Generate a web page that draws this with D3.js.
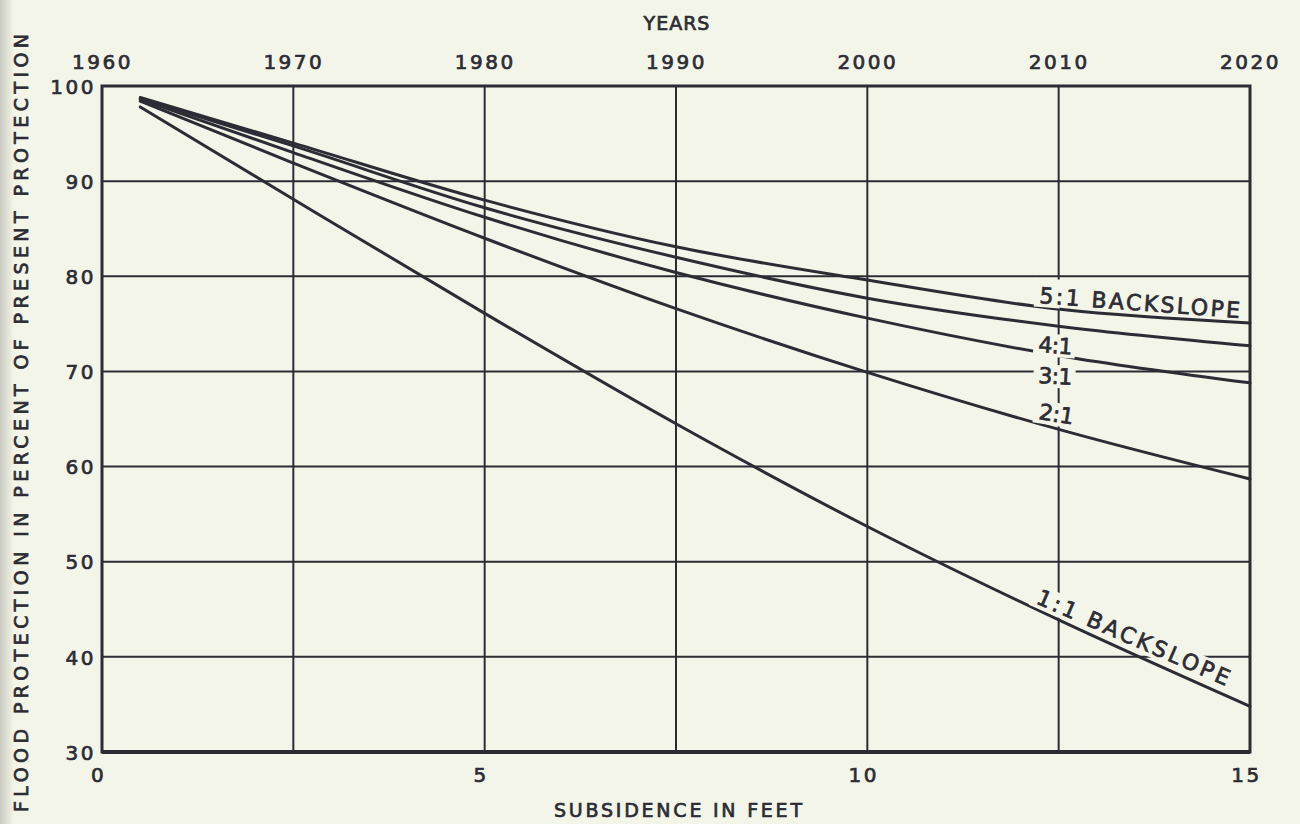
<!DOCTYPE html>
<html>
<head>
<meta charset="utf-8">
<script src="https://cdn.jsdelivr.net/npm/d3@7"></script>
<style>
  html, body { margin: 0; padding: 0; background: #f3f5e8; }
  svg { display: block; }
  text { font-family: "DejaVu Sans", sans-serif; fill: #2c2c35; stroke: #2c2c35; stroke-width: 0.7px; }
</style>
</head>
<body>
<div id="chart"></div>
<script>
// subsidence (feet) where the curves were read
var subsidence = [0.5, 2.5, 5, 7.5, 10, 12.55, 15];
// flood protection in percent of present protection, per backslope
var slope5to1 = [98.8, 94.0, 88.0, 83.1, 79.6, 76.5, 75.1];
var slope4to1 = [98.7, 93.7, 87.2, 82.0, 77.7, 74.7, 72.7];
var slope3to1 = [98.6, 93.0, 86.2, 80.4, 75.6, 71.6, 68.8];
var slope2to1 = [98.4, 91.9, 84.0, 76.6, 69.9, 63.8, 58.7];
var slope1to1 = [97.8, 88.1, 76.1, 64.5, 53.7, 43.7, 34.8];

var seriesNames = ["5:1", "4:1", "3:1", "2:1", "1:1"];
var seriesValues = [slope5to1, slope4to1, slope3to1, slope2to1, slope1to1];

// tick labels
var yearTicks = [1960, 1970, 1980, 1990, 2000, 2010, 2020];
var subsidenceTicks = [0, 5, 10, 15];
var percentTicks = [30, 40, 50, 60, 70, 80, 90, 100];

var ink = "#2c2c35";
var paper = "#f3f5e8";

var margin = { left: 102, right: 50, top: 86, bottom: 72 };
var width = 1300 - margin.left - margin.right;
var height = 824 - margin.top - margin.bottom;

var svg = d3.select("#chart")
    .append("svg")
    .attr("width", 1300)
    .attr("height", 824);

svg.append("rect")
    .attr("width", 1300)
    .attr("height", 824)
    .attr("fill", paper);

// scanned page edge on the left
var grad = svg.append("defs").append("linearGradient")
    .attr("id", "edge");
grad.append("stop").attr("offset", "0%").attr("stop-color", "#c9cbc0");
grad.append("stop").attr("offset", "100%").attr("stop-color", paper);
svg.append("rect")
    .attr("width", 14)
    .attr("height", 824)
    .attr("fill", "url(#edge)");

var g = svg.append("g")
    .attr("transform", "translate(" + margin.left + "," + margin.top + ")");

var xScale = d3.scaleLinear().domain([0, 15]).range([0, width]);
var yearScale = d3.scaleLinear().domain([1960, 2020]).range([0, width]);
var yScale = d3.scaleLinear().domain([30, 100]).range([height, 0]);

// grid
g.append("g")
    .attr("class", "grid x")
    .selectAll("line")
    .data(yearTicks.slice(1, -1))
    .enter().append("line")
    .attr("x1", function (d) { return yearScale(d); })
    .attr("x2", function (d) { return yearScale(d); })
    .attr("y1", 0)
    .attr("y2", height)
    .attr("stroke", ink)
    .attr("stroke-width", 2);

g.append("g")
    .attr("class", "grid y")
    .selectAll("line")
    .data(percentTicks.slice(1, -1))
    .enter().append("line")
    .attr("x1", 0)
    .attr("x2", width)
    .attr("y1", function (d) { return yScale(d); })
    .attr("y2", function (d) { return yScale(d); })
    .attr("stroke", ink)
    .attr("stroke-width", 2);

// axes (labels only, frame is drawn separately)
var yearAxis = d3.axisTop(yearScale).tickValues(yearTicks).tickSize(0).tickFormat(d3.format("d"));
var subsAxis = d3.axisBottom(xScale).tickValues(subsidenceTicks).tickSize(0).tickFormat(d3.format("d"));
var pctAxis = d3.axisLeft(yScale).tickValues(percentTicks).tickSize(0).tickFormat(d3.format("d"));

function styleAxis(sel) {
    sel.select(".domain").remove();
    sel.selectAll("text")
        .attr("font-family", "DejaVu Sans, sans-serif")
        .attr("font-size", 20)
        .attr("letter-spacing", "2.5px")
        .attr("fill", ink);
}

g.append("g").attr("class", "year axis").call(yearAxis).call(styleAxis)
    .selectAll("text").attr("y", -24).attr("dy", "0.36em");
g.append("g").attr("class", "subs axis")
    .attr("transform", "translate(0," + height + ")")
    .call(subsAxis).call(styleAxis)
    .selectAll("text").attr("y", 23).attr("dy", "0.36em").attr("x", -4);
g.append("g").attr("class", "pct axis").call(pctAxis).call(styleAxis)
    .selectAll("text").attr("x", -6).attr("dy", "0.36em");

// frame
g.append("rect")
    .attr("width", width)
    .attr("height", height)
    .attr("fill", "none")
    .attr("stroke", ink)
    .attr("stroke-width", 3);
g.append("line")
    .attr("x1", 0).attr("x2", width)
    .attr("y1", height).attr("y2", height)
    .attr("stroke", ink).attr("stroke-width", 4);

// curve labels, with a paper patch that hides the grid behind them
var labels = [
    { text: "5:1 BACKSLOPE", x: 1039, y: 303, rot: 4.3, len: 201, padTop: 6 },
    { text: "4:1", x: 1038, y: 352, rot: 4, len: 34, padTop: 0 },
    { text: "3:1", x: 1038, y: 383, rot: 3, len: 34, padTop: 0 },
    { text: "2:1", x: 1038, y: 419, rot: 9, len: 35, padTop: 0 },
    { text: "1:1 BACKSLOPE", x: 1035, y: 603, rot: 23.5, len: 208, padTop: 0 }
];
var labelLayer = svg.append("g").attr("class", "labels");
labels.forEach(function (l) {
    var lg = labelLayer.append("g")
        .attr("transform", "translate(" + l.x + "," + l.y + ") rotate(" + l.rot + ")");
    var bg = lg.append("rect").attr("fill", paper);
    var t = lg.append("text")
        .attr("font-size", 22)
        .attr("textLength", l.len)
        .attr("lengthAdjust", "spacing")
        .text(l.text);
    var bb = t.node().getBBox();
    bg.attr("x", bb.x - 5).attr("y", bb.y + 1 - l.padTop)
        .attr("width", l.padTop ? 26 : bb.width + 8)
        .attr("height", bb.height - 2 + l.padTop);
});

// curves
var line = d3.line()
    .x(function (d) { return xScale(d[0]); })
    .y(function (d) { return yScale(d[1]); })
    .curve(d3.curveMonotoneX);

g.append("g")
    .attr("class", "curves")
    .selectAll("path")
    .data(seriesValues)
    .enter().append("path")
    .attr("d", function (vals) { return line(subsidence.map(function (s, i) { return [s, vals[i]]; })); })
    .attr("fill", "none")
    .attr("stroke", ink)
    .attr("stroke-width", 3)
    .attr("stroke-linecap", "round");

// titles
svg.append("text")
    .attr("x", 677).attr("y", 23).attr("dy", "0.36em")
    .attr("text-anchor", "middle")
    .attr("font-size", 19)
    .attr("letter-spacing", "1px")
    .text("YEARS");

svg.append("text")
    .attr("x", 678).attr("y", 810).attr("dy", "0.36em")
    .attr("text-anchor", "middle")
    .attr("font-size", 19)
    .attr("textLength", 248)
    .attr("lengthAdjust", "spacing")
    .text("SUBSIDENCE IN FEET");

svg.append("text")
    .attr("transform", "translate(21,423) rotate(-90)")
    .attr("dy", "0.36em")
    .attr("text-anchor", "middle")
    .attr("font-size", 19)
    .attr("textLength", 778)
    .attr("lengthAdjust", "spacing")
    .text("FLOOD PROTECTION IN PERCENT OF PRESENT PROTECTION");
</script>
</body>
</html>
